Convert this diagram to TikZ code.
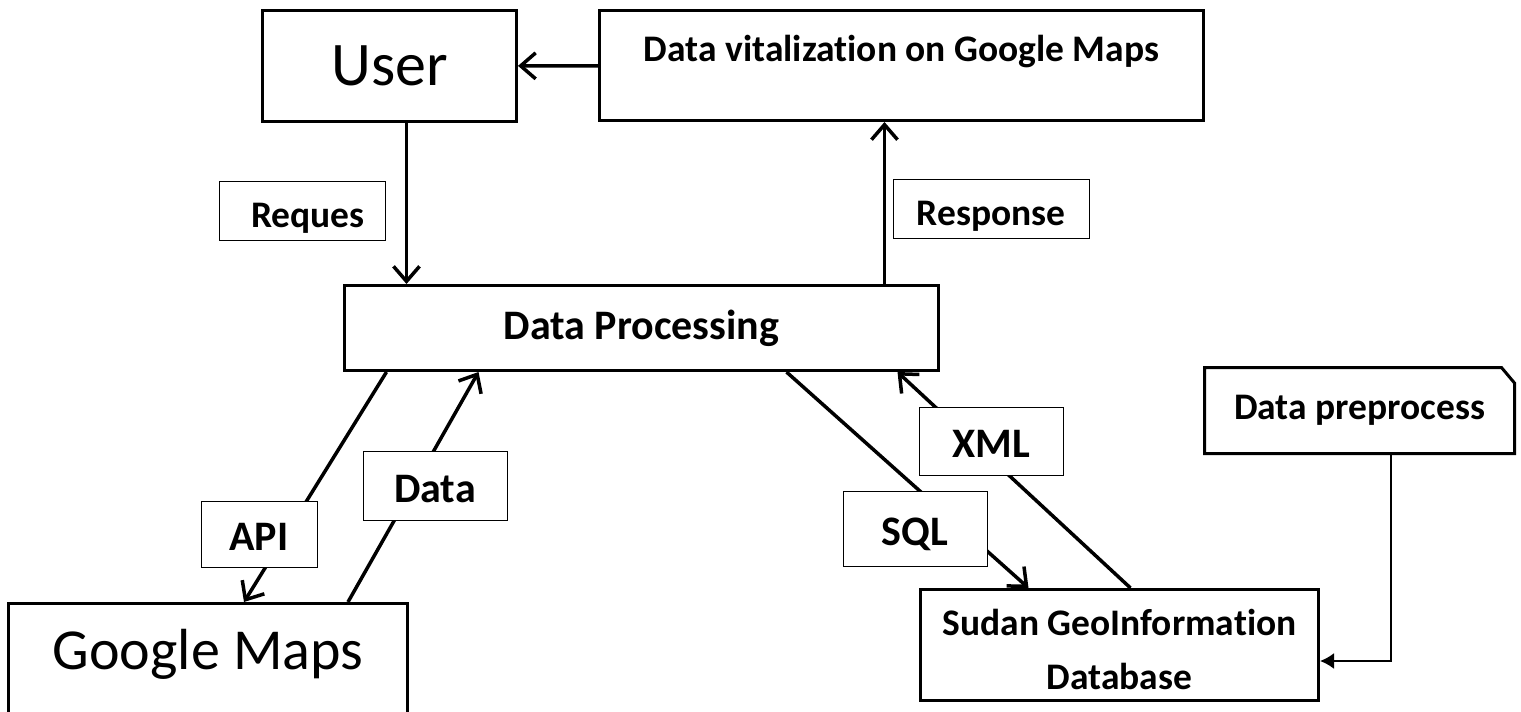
\documentclass[tikz,border=0pt]{standalone}
\usepackage{fontspec}
\setmainfont{Carlito}[Ligatures=NoCommon]
\usetikzlibrary{positioning, arrows.meta, shapes}

\begin{document}
\begin{tikzpicture}[
            x=1pt, y=-1pt,
            box/.style={draw, line width=3pt, fill=white, anchor=north west, inner sep=0pt},
            tag/.style={draw, line width=1pt, fill=white, inner sep=0pt, text height=33pt, text depth=0pt,
                font=\bfseries\fontsize{37.5}{45}\selectfont},
            big/.style={font=\bfseries\fontsize{42}{50}\selectfont},
            flow/.style={line width=3.5pt, -{Straight Barb[length=15pt, width=26pt]}},
        ]
            \useasboundingbox (0,0) rectangle (1521,712);

            \node[box, minimum width=254pt, minimum height=111pt, font=\fontsize{62}{74}\selectfont] (user) at (261,9) {User};
            \node[box, minimum width=604pt, minimum height=110pt, font=\bfseries\fontsize{37.5}{45}\selectfont,
                text height=25pt, text depth=33pt] (vis) at (598,9) {Data vitalization on Google Maps};
            \node[box, big, minimum width=594pt, minimum height=85pt] (dp) at (343,284) {Data Processing};
            \node[box, minimum width=399pt, minimum height=160pt, font=\fontsize{58}{70}\selectfont,
                text height=45pt, text depth=73pt] (gmaps) at (7,602) {Google Maps};
            \node[box, minimum width=398pt, minimum height=111pt, align=center, font=\bfseries\fontsize{37.5}{54}\selectfont,
                text height=89pt, text depth=0pt] (sudan) at (919,588) {Sudan GeoInformation\\Database};
            \node[box, chamfered rectangle, chamfered rectangle corners=north east, chamfered rectangle angle=40,
                chamfered rectangle xsep=8pt, chamfered rectangle ysep=6pt,
                minimum width=310pt, minimum height=86pt, font=\bfseries\fontsize{37.5}{45}\selectfont] (prep) at (1203,366) {Data preprocess};

            \draw[flow] (vis) -- (user);
            \draw[flow] ([xshift=17pt]user.south) -- ([xshift=17pt]user.south |- dp.north);
            \draw[flow] ([xshift=243pt]dp.north) -- ([xshift=243pt]dp.north |- vis.south);
            \draw[flow] ([xshift=-255pt]dp.south) -- ([xshift=36pt]gmaps.north);
            \draw[flow] ([xshift=140pt]gmaps.north) -- ([xshift=-163pt]dp.south);
            \draw[flow] ([xshift=145pt]dp.south) -- ([xshift=-91pt]sudan.north);
            \draw[flow] ([xshift=11pt]sudan.north) -- ([xshift=256pt]dp.south);
            \draw[line width=2pt, -{Latex[length=14pt, width=16pt]}] ([xshift=31pt]prep.south) |- ([yshift=-16pt]sudan.east);

            \node[tag, minimum width=166pt, minimum height=59pt] (reques) at (302,210.5) {\hspace{12pt}Reques};
            \node[tag, minimum width=196pt, minimum height=59pt] (response) at (991,208.5) {Response};
            \node[tag, big, minimum width=116pt, minimum height=66pt] (api) at (259,534) {API};
            \node[tag, big, minimum width=144pt, minimum height=69pt] (data) at (435,485.5) {Data};
            \node[tag, big, minimum width=144pt, minimum height=75pt] (sql) at (915,528.5) {SQL};
            \node[tag, big, minimum width=144pt, minimum height=68pt] (xml) at (991,441) {XML};
        \end{tikzpicture}
\end{document}
